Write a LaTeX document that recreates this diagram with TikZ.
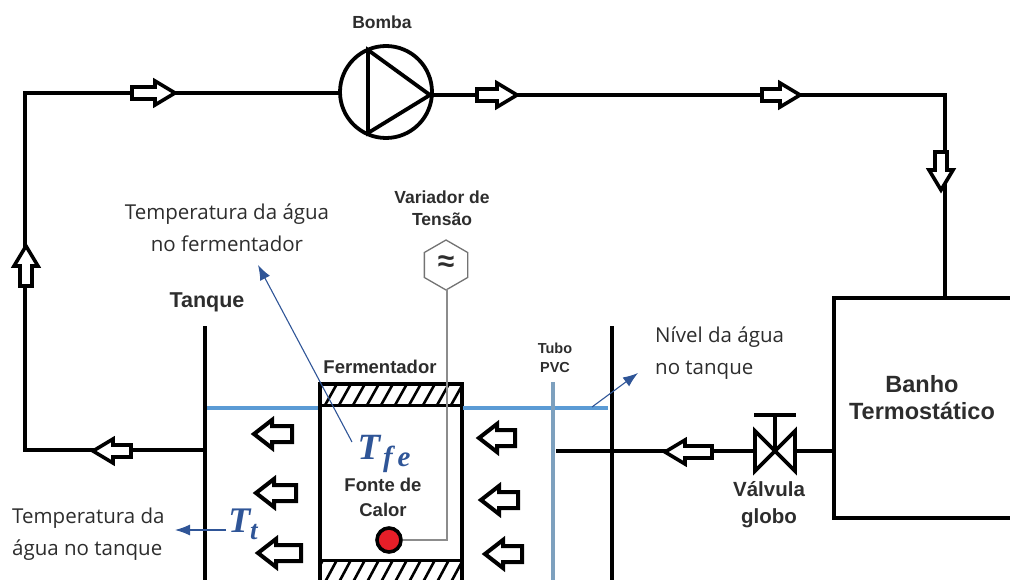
\documentclass[tikz,border=0pt]{standalone}
\usepackage{fontspec}
\setmainfont{Liberation Sans}
\newfontfamily\labelfont{Open Sans}
\newfontfamily\mathlike{Liberation Serif}
\usetikzlibrary{shapes.geometric,arrows.meta,patterns}
\definecolor{bluenote}{RGB}{47,85,151}
\definecolor{waterline}{RGB}{91,155,213}
\definecolor{tubeblue}{RGB}{125,160,190}
\definecolor{labelgray}{RGB}{45,45,45}
\definecolor{heatred}{RGB}{230,30,40}
\tikzset{
  pipe/.style={line width=3.8pt,black,line join=miter},
  wall/.style={line width=3.8pt,black},
  water/.style={line width=3.6pt,waterline},
  wire/.style={line width=1.6pt,black!45},
  note/.style={line width=1.1pt,bluenote,-{Latex[length=15pt,width=11pt]}},
  boldlabel/.style={font=\bfseries\fontsize{18.5}{22}\selectfont,text=labelgray,align=center,inner sep=0pt},
  smalllabel/.style={font=\bfseries\fontsize{17.5}{22}\selectfont,text=labelgray,align=center,inner sep=0pt},
  notelabel/.style={font=\labelfont\fontsize{20.5}{32}\selectfont,text=labelgray,inner sep=0pt},
  symbol/.style={font=\mathlike\bfseries\itshape,text=bluenote,inner sep=0pt},
  pics/pipearrow/.style={code={
    \draw[line width=3.6pt,fill=white,line join=miter] (0,0) -- (-20,-12) -- (-20,-6) -- (-#1,-6) -- (-#1,6) -- (-20,6) -- (-20,12) -- cycle;}},
  pics/flowarrow/.style={code={
    \draw[line width=4pt,fill=white,line join=miter] (0,0) -- (18,-14) -- (18,-8) -- (#1,-8) -- (#1,8) -- (18,8) -- (18,14) -- cycle;}},
}
\begin{document}
\begin{tikzpicture}[x=1pt,y=-1pt]
\useasboundingbox (0,0) rectangle (1010,580);
\clip (0,0) rectangle (1010,580);

% named anchors
\node[circle,draw,line width=3.8pt,minimum size=92pt,inner sep=0pt,fill=white] (pump) at (386,92) {};
\coordinate (cornerTL) at (25,93);
\coordinate (cornerTR) at (945,95);
\coordinate (cornerBL) at (25,450);
\coordinate (tankL) at (205,450);
\coordinate (tubeOut) at (556,451);
\coordinate (pumpTop) at (368,50);
\coordinate (pumpBot) at (368,133);
\coordinate (pumpTip) at (430,95);

% bath box
\coordinate (bathTL) at (834,298);
\coordinate (bathBL) at (834,518);
\draw[pipe] (1012,298) -- (bathTL) -- (bathBL) -- (1012,518);
\node[boldlabel,font=\bfseries\fontsize{23.5}{27}\selectfont] (bath) at (922,398) {Banho\\[0pt]Termostático};

% piping
\draw[pipe] (pump.west |- cornerTL) -- (cornerTL) -- (cornerBL) -- (tankL);
\draw[pipe] (pumpTip) -- (cornerTR) -- (cornerTR |- bathTL);
\draw[wall] (pumpTop) -- (pumpBot) -- (pumpTip) -- cycle;

% tank
\draw[wall] (205,326) -- (205,582);
\draw[wall] (612,326) -- (612,582);

% fermenter
\coordinate (fermTL) at (320,384);
\coordinate (fermTR) at (462,384);
\begin{scope}
  \clip (320,384) rectangle (462,405);
  \foreach \x in {310,324,...,480} \draw[line width=2.6pt] (\x,407) -- (\x+14,382);
\end{scope}
\begin{scope}
  \clip (320,560) rectangle (462,582);
  \foreach \x in {310,324,...,480} \draw[line width=2.6pt] (\x,584) -- (\x+14,558);
\end{scope}
\draw[wall] (320,582) -- (fermTL) -- (fermTR) -- (462,582);
\draw[line width=3pt] (320,405) -- (462,405);
\draw[line width=3pt] (320,560) -- (462,560);

% water level and tube
\draw[water] (207,408) -- (318,408);
\draw[water] (463,408) -- (608,408);
\draw[line width=3.6pt,tubeblue] (553,382) -- (553,582);

% outlet pipe and valve
\coordinate (valve) at (775,451);
\draw[pipe] (tubeOut) -- (valve) -- (bathTL |- valve);
\draw[line width=3.8pt,fill=white,line join=miter] (755,431) -- (795,471) -- (795,431) -- (755,471) -- cycle;
\draw[line width=3.6pt] (valve) -- (775,416);
\draw[line width=3.6pt] (754,415) -- (796,415);

% heater and wiring
\node[regular polygon,regular polygon sides=6,draw=black!55,line width=1.3pt,fill=white,minimum size=50pt,inner sep=0pt,rotate=30] (variador) at (446,265) {};
\node[inner sep=0pt,font=\bfseries\fontsize{30}{30}\selectfont,text=labelgray] (approx) at (446,264) {≈};
\node[circle,draw,line width=3.6pt,fill=heatred,minimum size=24pt,inner sep=0pt] (heater) at (389,540) {};
\coordinate (wireCorner) at (447,540);
\draw[wire] (446,290) -- (wireCorner |- 0,290) -- (wireCorner) -- (heater.east);

% hollow arrows on pipes
\pic (a1) at (175,93) {pipearrow=43};
\pic (a2) at (517,95) {pipearrow=40};
\pic (a3) at (800,95) {pipearrow=38};
\pic[rotate=-90] (a4) at (941,190) {pipearrow=38};
\pic[rotate=90] (a5) at (26,246) {pipearrow=40};
\pic[rotate=180] (a6) at (93,451) {pipearrow=38};
\pic[rotate=180] (a7) at (665,452) {pipearrow=47};

% flow arrows in tank
\pic (f1) at (254,434) {flowarrow=38};
\pic (f2) at (256,493) {flowarrow=40};
\pic (f3) at (258,553) {flowarrow=43};
\pic (f4) at (479,438) {flowarrow=36};
\pic (f5) at (481,500) {flowarrow=37};
\pic (f6) at (485,554) {flowarrow=37};

% labels
\node[smalllabel] (lbomba) at (382,22) {Bomba};
\node[smalllabel] (lvariador) at (442,208) {Variador de\\Tensão};
\node[boldlabel,font=\bfseries\fontsize{21.5}{24}\selectfont] (ltanque) at (207,302) {Tanque};
\node[boldlabel] (lferm) at (380,367) {Fermentador};
\node[boldlabel,font=\bfseries\fontsize{14.5}{19}\selectfont] (ltubo) at (555,358) {Tubo\\PVC};
\node[smalllabel,font=\bfseries\fontsize{18.5}{25}\selectfont] (lfonte) at (383,497) {Fonte de\\Calor};
\node[boldlabel,font=\bfseries\fontsize{20.5}{27}\selectfont] (lvalvula) at (769,505) {Válvula\\globo};

\node[notelabel,align=center] (nferm) at (227,228) {Temperatura da água\\no fermentador};
\node[notelabel,align=left,anchor=west] (nnivel) at (655,353) {Nível da água\\no tanque};
\node[notelabel,align=left,anchor=west] (ntanque) at (12,534) {Temperatura da\\água no tanque};

\node[symbol] (tfe) at (384,454) {\fontsize{37}{37}\selectfont T\raisebox{-7pt}{\fontsize{29}{29}\selectfont\,\kern-2pt f\,e}};
\node[symbol] (tt) at (243,524) {\fontsize{36}{36}\selectfont T\raisebox{-7pt}{\fontsize{27}{27}\selectfont t}};

% note arrows
\coordinate (noteFermEnd) at (258,265);
\coordinate (noteNivelStart) at (592,407);
\coordinate (noteNivelEnd) at (638,373);
\coordinate (noteTankEnd) at (175,530);
\coordinate (noteFermStart) at (352,442);
\coordinate (noteTankStart) at (226,530);
\draw[note] (noteFermStart) -- (noteFermEnd);
\draw[note] (noteNivelStart) -- (noteNivelEnd);
\draw[note] (noteTankStart) -- (noteTankEnd);
\end{tikzpicture}
\end{document}
